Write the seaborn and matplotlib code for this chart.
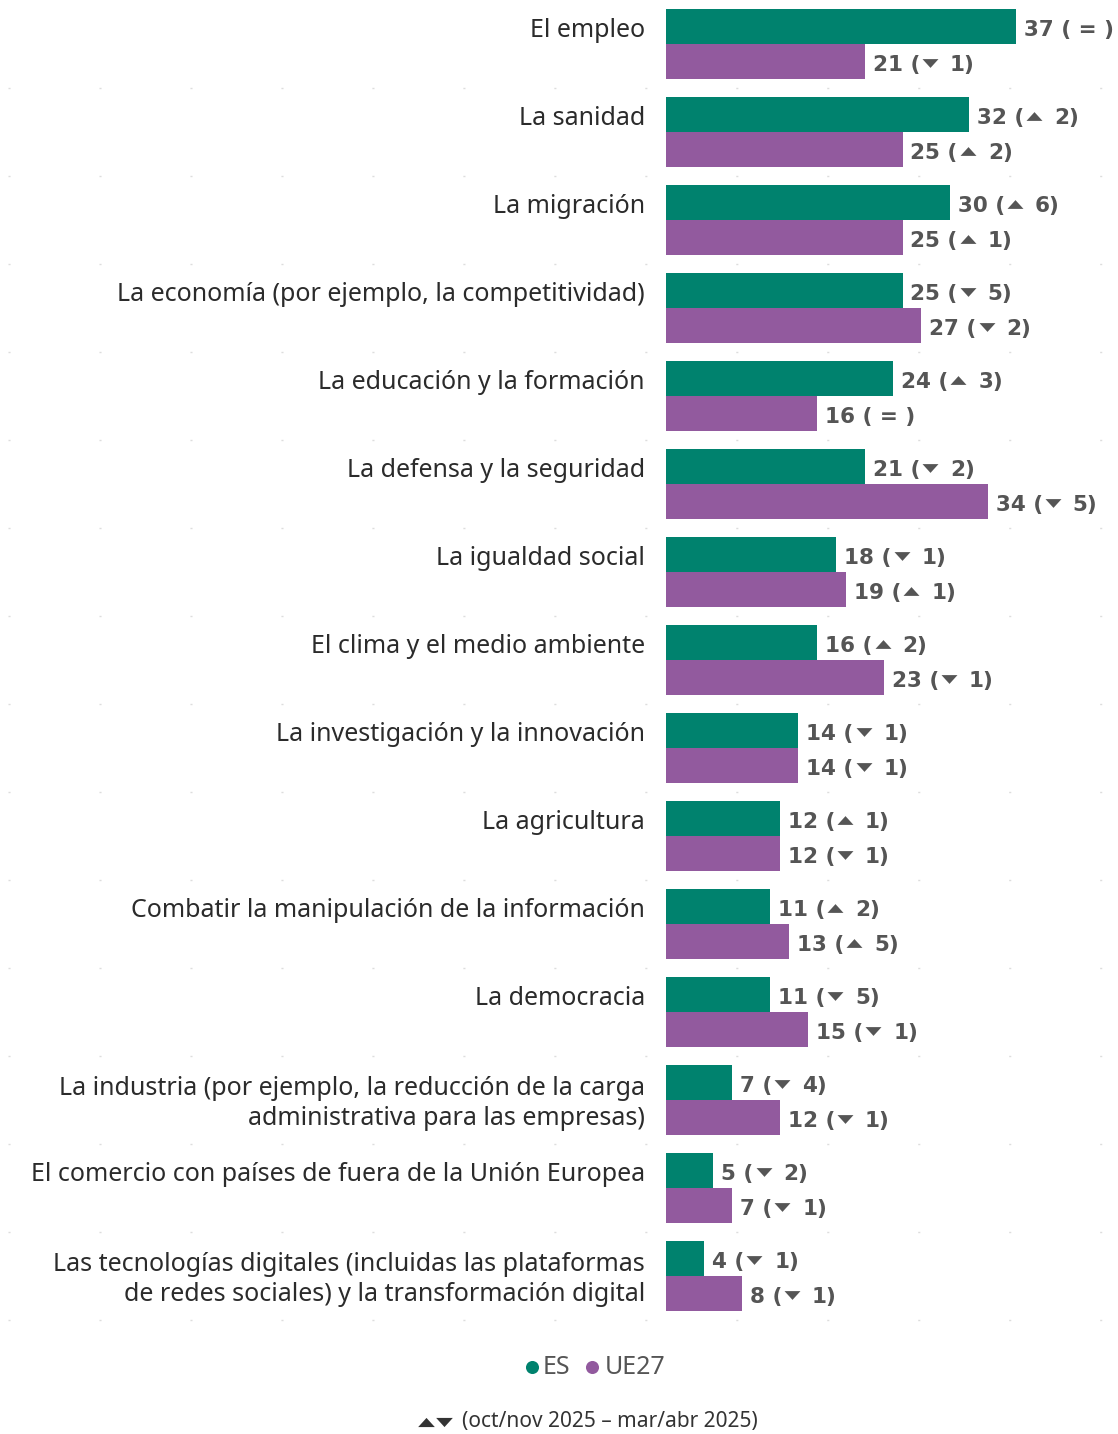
import pandas as pd
import numpy as np
import matplotlib.pyplot as plt
import seaborn as sns
from matplotlib.lines import Line2D

# data
temas = ["El empleo", "La sanidad", "La migración",
         "La economía (por ejemplo, la competitividad)",
         "La educación y la formación", "La defensa y la seguridad",
         "La igualdad social", "El clima y el medio ambiente",
         "La investigación y la innovación", "La agricultura",
         "Combatir la manipulación de la información", "La democracia",
         "La industria (por ejemplo, la reducción de la carga\nadministrativa para las empresas)",
         "El comercio con países de fuera de la Unión Europea",
         "Las tecnologías digitales (incluidas las plataformas\nde redes sociales) y la transformación digital"]
es_val = [37, 32, 30, 25, 24, 21, 18, 16, 14, 12, 11, 11, 7, 5, 4]
ue_val = [21, 25, 25, 27, 16, 34, 19, 23, 14, 12, 13, 15, 12, 7, 8]
# change vs previous wave: +n up, -n down, 0 = unchanged
es_diff = [0, 2, 6, -5, 3, -2, -1, 2, -1, 1, 2, -5, -4, -2, -1]
ue_diff = [-1, 2, 1, -2, 0, -5, 1, -1, -1, -1, 5, -1, -1, -1, -1]
series = ["ES", "UE27"]
colores = {"ES": "#00826e", "UE27": "#925a9e"}

df = pd.DataFrame({"tema": temas * 2,
                   "serie": ["ES"] * len(temas) + ["UE27"] * len(temas),
                   "valor": es_val + ue_val})

sns.set_theme(style="white")
plt.rcParams['font.family'] = ['Noto Sans', 'DejaVu Sans']

W, H = 1118, 1434
fig = plt.figure(figsize=(W / 100, H / 100), dpi=100)
ax = fig.add_axes([666 / W, (H - 1320) / H, (W - 666) / W, 1320 / H])

sns.barplot(data=df, y="tema", x="valor", hue="serie", palette=colores,
            orient="h", width=0.8, saturation=1, linewidth=0, ax=ax, legend=False)

ax.set_xlim(0, (W - 666) / 9.46)
ax.set_ylim(len(temas) - 0.5, -0.5)
ax.set_xlabel("")
ax.set_ylabel("")
ax.set_xticks([])
ax.set_yticks([])
sns.despine(ax=ax, left=True, bottom=True, top=True, right=True)

# category labels, first line aligned with the ES bar
for i, t in enumerate(temas):
    extra = 32 * t.count("\n")  # baseline is taken from the last line
    ax.annotate(t, xy=(0, i - 0.5 + (37 + extra) / 88), xytext=(-21, 0), textcoords="offset pixels",
                ha="right", va="baseline", multialignment="right", linespacing=1.28,
                fontsize=18, color="#2b2b2b", annotation_clip=False)

tri_up = [(-1, -0.55), (1, -0.55), (0, 0.55)]
tri_dn = [(-1, 0.55), (1, 0.55), (0, -0.55)]
renderer = fig.canvas.get_renderer()
gris = "#555555"
kw = dict(fontsize=15.5, fontweight="bold", family="DejaVu Sans", color=gris,
          va="baseline", ha="left")

def etiqueta(v, d, yb):
    if d == 0:
        ax.annotate(f"{v} ( = )", xy=(v, yb), xytext=(8, 0), textcoords="offset pixels",
                    annotation_clip=False, **kw)
        return
    t1 = ax.annotate(f"{v} (", xy=(v, yb), xytext=(8, 0), textcoords="offset pixels",
                     annotation_clip=False, **kw)
    bb = t1.get_window_extent(renderer)
    xm = bb.x1 + 2 + 8
    yp = ax.transData.transform((0, yb))[1]
    fig.add_artist(Line2D([xm], [yp + 8], transform=None, marker=tri_up if d > 0 else tri_dn,
                          markersize=11.5, color=gris, markeredgewidth=0, linestyle="none"))
    fig.text(0, 0, f"{abs(d)})", transform=None, **kw).set_position((xm + 8 + 12, yp))

for i in range(len(temas)):
    etiqueta(es_val[i], es_diff[i], i - 0.5 + 36 / 88)
    etiqueta(ue_val[i], ue_diff[i], i - 0.5 + 71 / 88)

# faint dotted separators between groups
for k in range(1, len(temas) + 1):
    yf = 1 - (88 * k) / H
    fig.add_artist(Line2D([8 / W, 1 - 8 / W], [yf, yf], transform=fig.transFigure,
                          color="#dddddd", lw=1, linestyle=(0, (1.5, 64))))

# legend
yl = 1 - 1367 / H
for xd, xt, s in [(531.7, 543, "ES"), (591.7, 605, "UE27")]:
    fig.add_artist(Line2D([xd / W], [yl], transform=fig.transFigure, marker="o",
                          markersize=9.4, color=colores[s], markeredgewidth=0, linestyle="none"))
    fig.text(xt / W, yl, s, color=gris, fontsize=18, ha="left", va="center")

# footnote
yn = 1 - 1422 / H
fig.add_artist(Line2D([426 / W], [yn], transform=fig.transFigure, marker=tri_up,
                      markersize=12, color="#333333", markeredgewidth=0, linestyle="none"))
fig.add_artist(Line2D([444 / W], [yn], transform=fig.transFigure, marker=tri_dn,
                      markersize=12, color="#333333", markeredgewidth=0, linestyle="none"))
fig.text(462 / W, yn, "(oct/nov 2025 – mar/abr 2025)", color="#333333",
         fontsize=15, ha="left", va="center")

fig.savefig("out.png", dpi=100)
